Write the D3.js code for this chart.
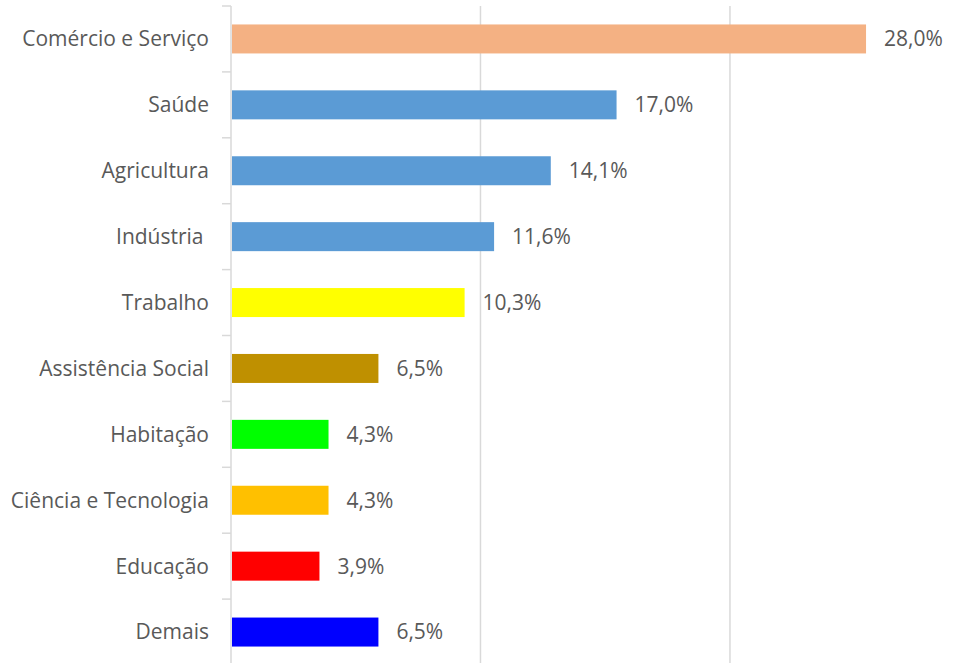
<!DOCTYPE html>
<html>
<head>
<meta charset="utf-8">
<script src="https://cdn.jsdelivr.net/npm/d3@7"></script>
<style>
  html, body { margin: 0; padding: 0; background: #fff; }
  svg { display: block; }
  text { font-family: "Open Sans", sans-serif; fill: #595959; white-space: pre; }
</style>
</head>
<body>
<svg id="chart" width="966" height="663"></svg>
<script>
const categories = ["Comércio e Serviço", "Saúde", "Agricultura", "Indústria ", "Trabalho",
  "Assistência Social", "Habitação", "Ciência e Tecnologia", "Educação", "Demais"];
const values = [28.0, 17.0, 14.1, 11.6, 10.3, 6.5, 4.3, 4.3, 3.9, 6.5];
const colors = ["#F4B183", "#5B9BD5", "#5B9BD5", "#5B9BD5", "#FFFF00",
  "#BF9000", "#00FF00", "#FFC000", "#FF0000", "#0000FF"];
const gridTicks = [11, 22, 33];

const svg = d3.select("#chart");
const x0 = 231;
const x = d3.scaleLinear().domain([0, 33]).range([x0, x0 + 33 * 22.68]);
const y = d3.scaleBand().domain(categories).range([6, 665]).paddingInner(0.56).paddingOuter(0.28);

// gridlines
svg.append("g").selectAll("line").data(gridTicks).join("line")
  .attr("x1", d => x(d)).attr("x2", d => x(d))
  .attr("y1", 6).attr("y2", 663)
  .attr("stroke", "#d9d9d9").attr("stroke-width", 1.5);

// axis line
svg.append("line").attr("x1", x0).attr("x2", x0).attr("y1", 6).attr("y2", 663)
  .attr("stroke", "#d9d9d9").attr("stroke-width", 1.5);

// category boundary ticks
const step = y.step();
const bounds = d3.range(categories.length + 1).map(i => 6 + i * step);
svg.append("g").selectAll("line").data(bounds).join("line")
  .attr("x1", x0 - 9).attr("x2", x0).attr("y1", d => d).attr("y2", d => d)
  .attr("stroke", "#d9d9d9").attr("stroke-width", 1.5);

// bars
svg.append("g").selectAll("rect").data(values).join("rect")
  .attr("x", x(0) + 1)
  .attr("y", (d, i) => y(categories[i]))
  .attr("width", d => x(d) - x(0) - 1)
  .attr("height", y.bandwidth())
  .attr("fill", (d, i) => colors[i]);

// category labels
svg.append("g").selectAll("text").data(categories).join("text")
  .attr("x", 209)
  .attr("y", d => y(d) + y.bandwidth() / 2)
  .attr("dy", "0.35em")
  .attr("text-anchor", "end")
  .attr("font-size", 21)
  .text(d => d);

// value labels
const fmt = v => v.toFixed(1).replace(".", ",") + "%";
svg.append("g").selectAll("text").data(values).join("text")
  .attr("x", d => x(d) + 18)
  .attr("y", (d, i) => y(categories[i]) + y.bandwidth() / 2)
  .attr("dy", "0.35em")
  .attr("font-size", 21)
  .text(d => fmt(d));
</script>
</body>
</html>
